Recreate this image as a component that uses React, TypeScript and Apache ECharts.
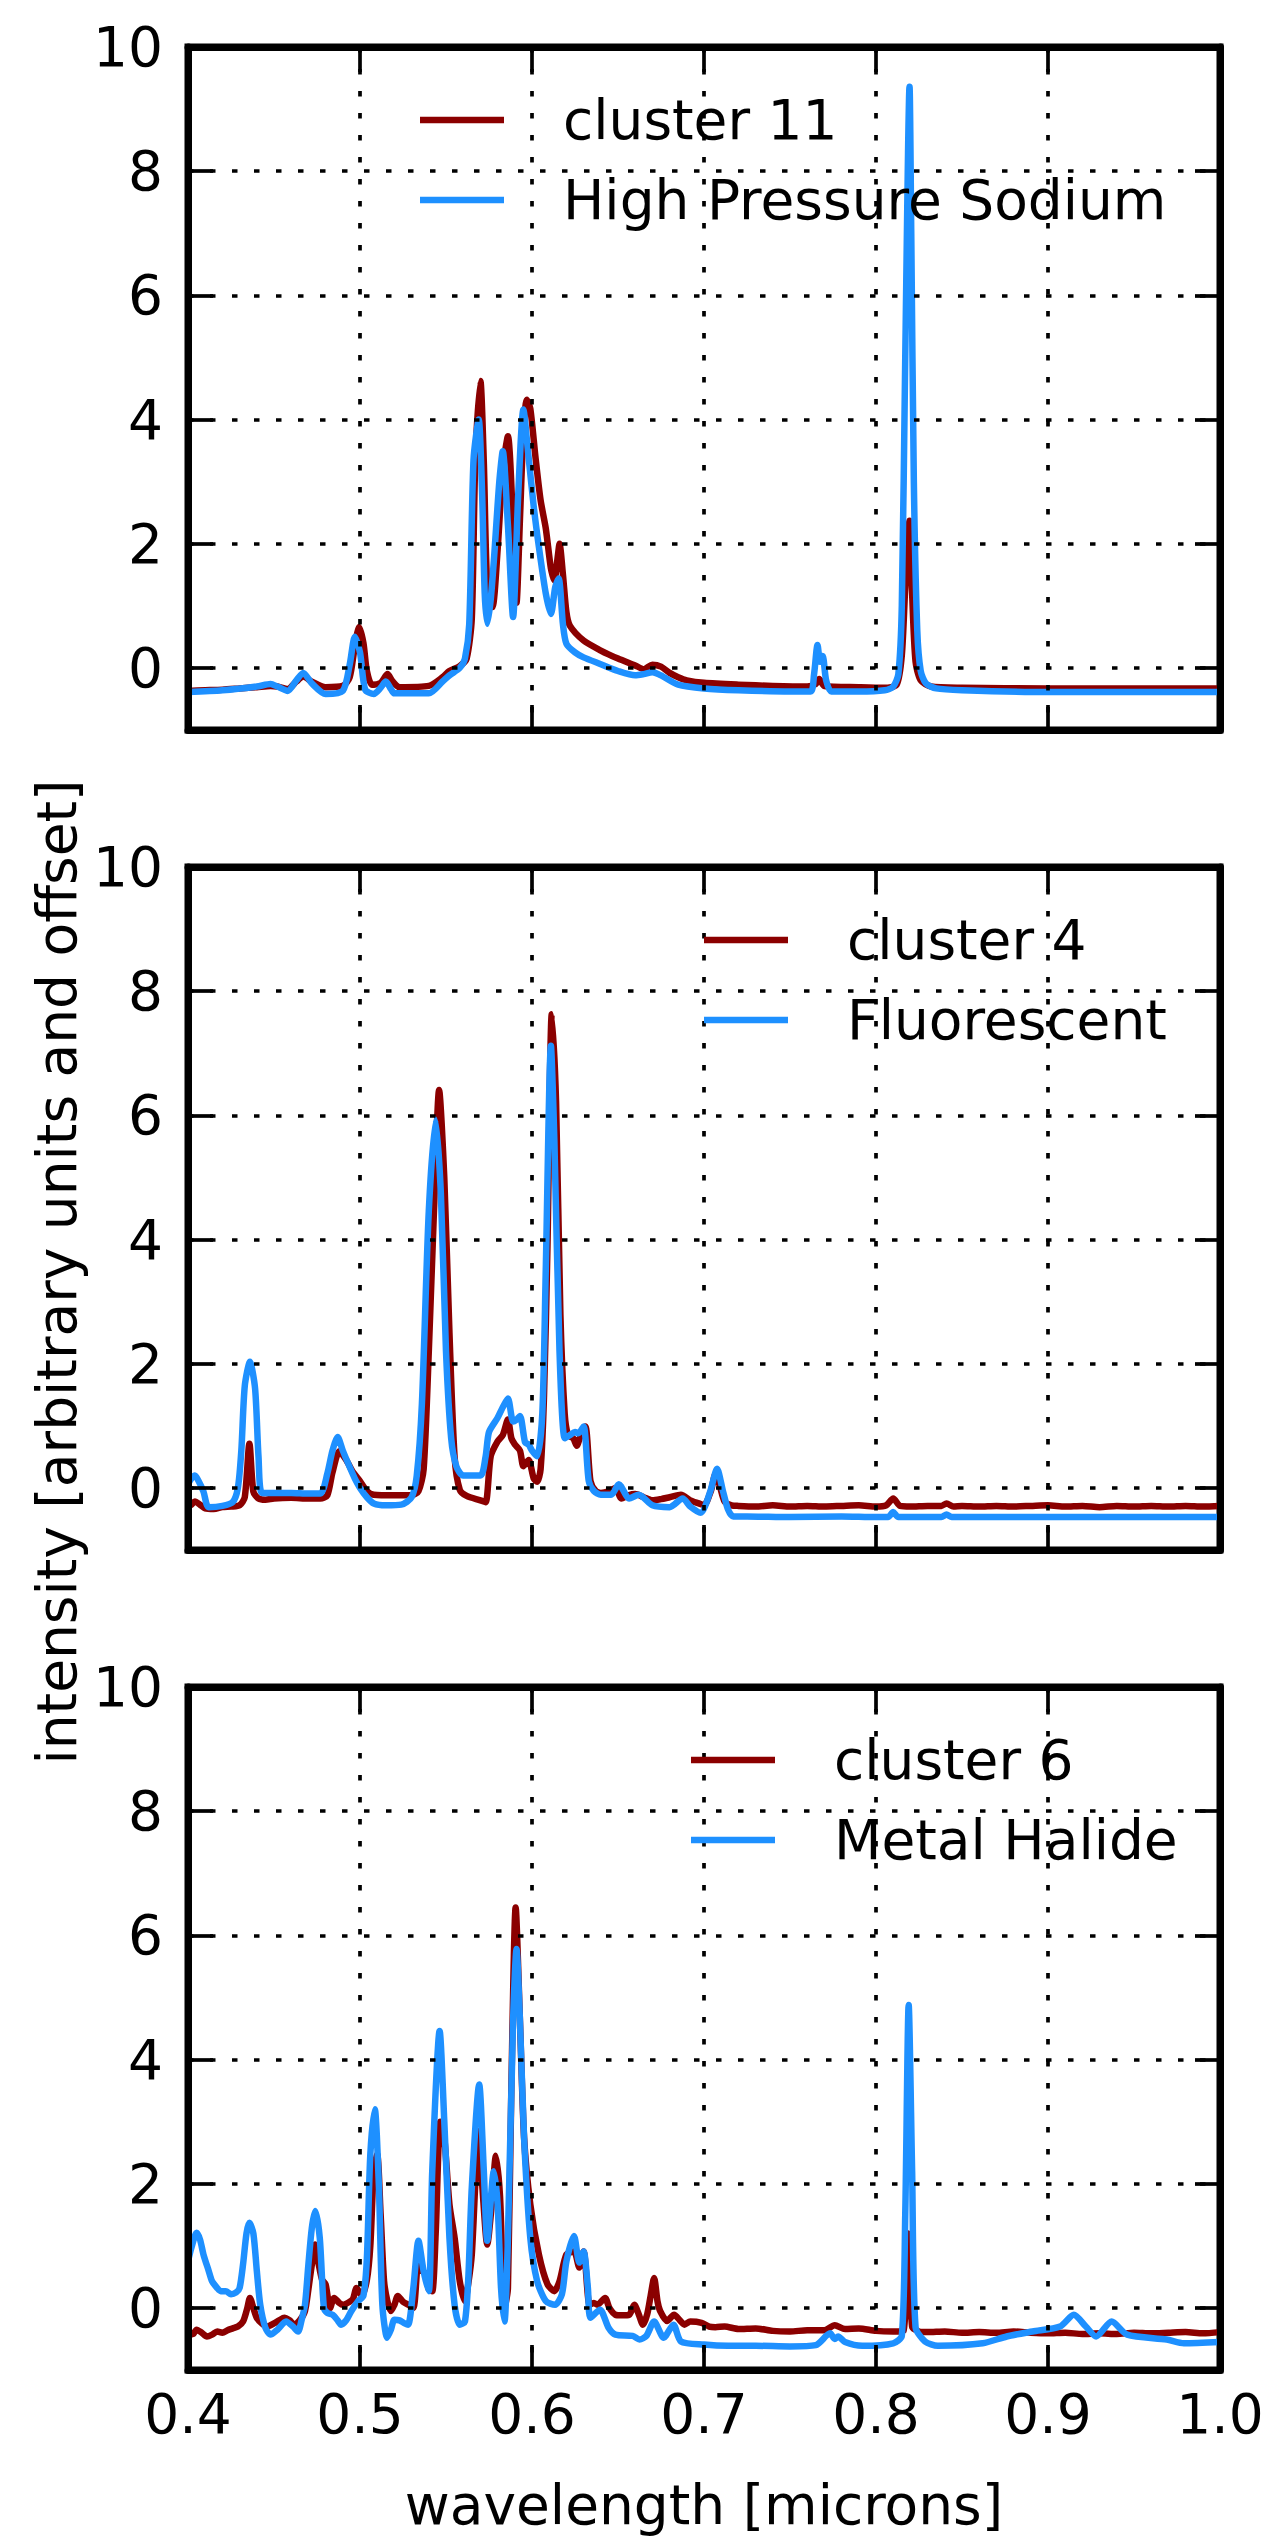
import React, { useEffect, useRef } from "react";
import * as echarts from "echarts";

// ---------------- data (wavelength in microns, intensity) ----------------
const wavelengthTicks = [0.4, 0.5, 0.6, 0.7, 0.8, 0.9, 1.0];
const intensityTicks = [0, 2, 4, 6, 8, 10];

const cluster11: [number, number][] = [
  [0.4, -0.37], [0.41, -0.36], [0.42, -0.35], [0.43, -0.33], [0.44, -0.31], [0.448, -0.29], [0.452, -0.3],
  [0.458, -0.34], [0.463, -0.22], [0.467, -0.14], [0.472, -0.22], [0.48, -0.31], [0.49, -0.29], [0.494, -0.15],
  [0.497, 0.35], [0.4995, 0.66], [0.502, 0.4], [0.504, -0.05], [0.507, -0.27], [0.512, -0.24], [0.516, -0.1],
  [0.519, -0.22], [0.523, -0.31], [0.54, -0.29], [0.548, -0.15], [0.552, -0.05], [0.558, 0.03], [0.562, 0.15],
  [0.565, 0.8], [0.567, 3.3], [0.57, 4.62], [0.572, 3.3], [0.574, 1.3], [0.577, 0.98], [0.58, 1.9], [0.583, 3.2],
  [0.586, 3.73], [0.589, 2.3], [0.591, 1.05], [0.593, 2.4], [0.595, 3.8], [0.597, 4.32], [0.599, 4.18],
  [0.602, 3.4], [0.605, 2.7], [0.608, 2.25], [0.611, 1.6], [0.613, 1.41], [0.615, 1.8], [0.616, 2.0],
  [0.618, 1.5], [0.62, 0.9], [0.622, 0.68], [0.63, 0.44], [0.64, 0.28], [0.65, 0.15], [0.66, 0.04],
  [0.665, -0.02], [0.67, 0.05], [0.675, 0.02], [0.68, -0.08], [0.685, -0.15], [0.69, -0.2], [0.7, -0.24],
  [0.72, -0.27], [0.74, -0.29], [0.76, -0.3], [0.765, -0.26], [0.767, -0.18], [0.77, -0.29], [0.79, -0.31],
  [0.805, -0.32], [0.812, -0.27], [0.815, 0.2], [0.817, 1.3], [0.8195, 2.37], [0.821, 1.2], [0.823, 0.1],
  [0.826, -0.2], [0.832, -0.3], [0.85, -0.32], [0.9, -0.33], [0.95, -0.33], [1.0, -0.33],
];

const highPressureSodium: [number, number][] = [
  [0.4, -0.39], [0.42, -0.36], [0.44, -0.3], [0.448, -0.26], [0.452, -0.3], [0.458, -0.37], [0.463, -0.2],
  [0.467, -0.08], [0.472, -0.25], [0.48, -0.42], [0.49, -0.37], [0.494, 0.05], [0.497, 0.5], [0.5, 0.25],
  [0.503, -0.35], [0.508, -0.42], [0.512, -0.32], [0.515, -0.22], [0.518, -0.34], [0.52, -0.41], [0.54, -0.41],
  [0.548, -0.22], [0.552, -0.12], [0.558, 0.0], [0.561, 0.15], [0.5635, 0.7], [0.566, 3.35], [0.569, 4.0],
  [0.571, 2.8], [0.5725, 1.2], [0.574, 0.71], [0.576, 1.1], [0.578, 1.8], [0.581, 3.0], [0.583, 3.49],
  [0.586, 2.3], [0.589, 0.82], [0.592, 2.8], [0.595, 4.16], [0.598, 3.4], [0.601, 2.6], [0.604, 1.95],
  [0.608, 1.2], [0.611, 0.87], [0.6135, 1.3], [0.6155, 1.44], [0.618, 0.7], [0.62, 0.39], [0.625, 0.25],
  [0.63, 0.17], [0.64, 0.06], [0.65, -0.05], [0.66, -0.12], [0.665, -0.1], [0.67, -0.07], [0.675, -0.12],
  [0.685, -0.27], [0.7, -0.33], [0.72, -0.36], [0.75, -0.38], [0.762, -0.38], [0.764, -0.1], [0.766, 0.37],
  [0.7675, 0.1], [0.769, 0.19], [0.771, -0.2], [0.774, -0.38], [0.79, -0.38], [0.805, -0.36], [0.81, -0.3],
  [0.813, -0.1], [0.815, 1.0], [0.817, 5.0], [0.8195, 9.36], [0.8205, 7.0], [0.822, 3.0], [0.824, 0.6],
  [0.826, -0.05], [0.829, -0.25], [0.835, -0.33], [0.85, -0.36], [0.9, -0.39], [0.95, -0.39], [1.0, -0.39],
];

const cluster4: [number, number][] = [
  [0.4, -0.3], [0.402, -0.27], [0.404, -0.22], [0.407, -0.27], [0.41, -0.33], [0.415, -0.34], [0.42, -0.31],
  [0.425, -0.3], [0.43, -0.28], [0.433, -0.15], [0.4357, 0.71], [0.438, -0.06], [0.441, -0.17], [0.445, -0.19],
  [0.45, -0.17], [0.46, -0.16], [0.47, -0.17], [0.477, -0.17], [0.481, -0.12], [0.484, 0.25], [0.488, 0.59],
  [0.492, 0.45], [0.496, 0.25], [0.5, 0.11], [0.504, -0.05], [0.508, -0.11], [0.52, -0.12], [0.53, -0.12],
  [0.534, -0.05], [0.537, 0.3], [0.54, 2.2], [0.543, 4.46], [0.546, 6.41], [0.549, 5.0], [0.552, 2.5],
  [0.555, 0.5], [0.558, -0.03], [0.562, -0.13], [0.57, -0.2], [0.573, -0.23], [0.576, 0.51], [0.58, 0.75],
  [0.583, 0.85], [0.586, 1.1], [0.588, 0.8], [0.59, 0.7], [0.593, 0.6], [0.595, 0.35], [0.598, 0.45],
  [0.601, 0.15], [0.603, 0.1], [0.605, 0.3], [0.607, 1.5], [0.609, 3.9], [0.6115, 7.63], [0.614, 6.2],
  [0.6165, 2.8], [0.619, 1.2], [0.621, 0.85], [0.624, 0.8], [0.626, 0.68], [0.628, 0.82], [0.631, 0.99],
  [0.634, 0.11], [0.637, -0.05], [0.64, -0.08], [0.645, -0.05], [0.6485, 0.0], [0.652, -0.17], [0.656, -0.12],
  [0.66, -0.1], [0.665, -0.15], [0.67, -0.2], [0.675, -0.18], [0.68, -0.15], [0.6866, -0.11], [0.692, -0.2],
  [0.697, -0.25], [0.7, -0.28], [0.704, -0.05], [0.7066, 0.22], [0.709, 0.05], [0.712, -0.22], [0.716, -0.28],
  [0.72, -0.29], [0.73, -0.3], [0.74, -0.28], [0.75, -0.3], [0.76, -0.29], [0.77, -0.3], [0.78, -0.29],
  [0.79, -0.28], [0.8, -0.3], [0.806, -0.28], [0.81, -0.17], [0.814, -0.29], [0.82, -0.3], [0.83, -0.29],
  [0.838, -0.29], [0.841, -0.25], [0.845, -0.3], [0.85, -0.29], [0.86, -0.3], [0.87, -0.29], [0.88, -0.3],
  [0.89, -0.29], [0.9, -0.28], [0.91, -0.3], [0.92, -0.29], [0.93, -0.31], [0.94, -0.29], [0.95, -0.3],
  [0.96, -0.29], [0.97, -0.3], [0.98, -0.29], [0.99, -0.3], [1.0, -0.29],
];

const fluorescent: [number, number][] = [
  [0.4, 0.06], [0.402, 0.15], [0.404, 0.2], [0.406, 0.12], [0.409, -0.06], [0.412, -0.31], [0.42, -0.29],
  [0.426, -0.23], [0.429, 0.0], [0.431, 0.6], [0.433, 1.64], [0.436, 2.03], [0.439, 1.6], [0.441, 0.5],
  [0.443, -0.08], [0.45, -0.08], [0.46, -0.08], [0.47, -0.09], [0.477, -0.09], [0.481, 0.23], [0.484, 0.6],
  [0.487, 0.82], [0.49, 0.6], [0.493, 0.4], [0.497, 0.15], [0.5, 0.0], [0.504, -0.15], [0.508, -0.25],
  [0.515, -0.28], [0.524, -0.27], [0.53, -0.15], [0.533, 0.2], [0.536, 1.36], [0.54, 4.46], [0.544, 5.93],
  [0.547, 4.75], [0.55, 2.2], [0.553, 0.8], [0.556, 0.35], [0.56, 0.2], [0.57, 0.2], [0.573, 0.5], [0.575, 0.9],
  [0.58, 1.13], [0.583, 1.3], [0.586, 1.44], [0.589, 1.07], [0.591, 1.1], [0.593, 1.16], [0.596, 0.73],
  [0.598, 0.7], [0.6, 0.6], [0.603, 0.51], [0.606, 1.2], [0.608, 3.5], [0.611, 7.12], [0.613, 5.6],
  [0.616, 2.2], [0.619, 0.8], [0.622, 0.85], [0.625, 0.9], [0.627, 0.88], [0.63, 0.99], [0.633, 0.11],
  [0.636, -0.05], [0.64, -0.11], [0.646, -0.11], [0.6505, 0.06], [0.6565, -0.17], [0.662, -0.11], [0.67, -0.28],
  [0.68, -0.31], [0.6876, -0.17], [0.692, -0.3], [0.698, -0.4], [0.7036, -0.06], [0.7076, 0.31], [0.711, -0.05],
  [0.714, -0.35], [0.717, -0.46], [0.725, -0.46], [0.75, -0.47], [0.78, -0.46], [0.8, -0.47], [0.807, -0.47],
  [0.81, -0.39], [0.813, -0.47], [0.838, -0.47], [0.841, -0.43], [0.844, -0.47], [0.85, -0.47], [0.9, -0.47],
  [0.95, -0.47], [1.0, -0.47],
];

const cluster6: [number, number][] = [
  [0.4, -0.43], [0.403, -0.42], [0.405, -0.35], [0.408, -0.4], [0.411, -0.46], [0.414, -0.43], [0.417, -0.38],
  [0.42, -0.4], [0.423, -0.36], [0.426, -0.33], [0.429, -0.3], [0.432, -0.22], [0.4345, 0.0], [0.436, 0.16],
  [0.438, 0.0], [0.44, -0.16], [0.443, -0.25], [0.446, -0.3], [0.45, -0.25], [0.453, -0.2], [0.456, -0.16],
  [0.459, -0.2], [0.462, -0.27], [0.465, -0.2], [0.468, -0.05], [0.47, 0.3], [0.472, 0.7], [0.474, 1.02],
  [0.476, 0.7], [0.478, 0.45], [0.48, 0.38], [0.4826, 0.0], [0.485, 0.16], [0.488, 0.08], [0.49, 0.05],
  [0.494, 0.1], [0.496, 0.15], [0.498, 0.32], [0.501, 0.2], [0.504, 0.45], [0.506, 1.0], [0.508, 2.2],
  [0.51, 2.47], [0.512, 1.5], [0.514, 0.43], [0.516, 0.1], [0.518, -0.05], [0.52, 0.05], [0.522, 0.19],
  [0.525, 0.1], [0.528, 0.05], [0.531, 0.0], [0.534, 0.8], [0.536, 0.6], [0.538, 0.55], [0.54, 0.3],
  [0.542, 0.27], [0.544, 1.2], [0.5467, 3.0], [0.549, 2.74], [0.552, 1.67], [0.555, 1.13], [0.558, 0.43],
  [0.561, 0.11], [0.563, 0.4], [0.565, 0.86], [0.567, 2.0], [0.5685, 2.85], [0.571, 2.0], [0.574, 1.02],
  [0.5764, 1.6], [0.579, 2.45], [0.5814, 1.8], [0.583, 0.5], [0.5844, 0.05], [0.586, 0.32], [0.588, 3.55],
  [0.5905, 6.45], [0.593, 4.62], [0.5954, 2.74], [0.599, 1.67], [0.604, 0.86], [0.609, 0.38], [0.613, 0.27],
  [0.616, 0.43], [0.62, 0.86], [0.6244, 0.91], [0.6275, 0.65], [0.63, 0.91], [0.6335, 0.05], [0.636, 0.08],
  [0.638, 0.05], [0.6425, 0.16], [0.645, 0.0], [0.6485, -0.11], [0.652, -0.12], [0.6565, -0.11], [0.6595, 0.05],
  [0.662, -0.1], [0.6645, -0.27], [0.667, -0.1], [0.669, 0.2], [0.671, 0.48], [0.673, 0.1], [0.6745, -0.05],
  [0.6785, -0.21], [0.6826, -0.11], [0.686, -0.2], [0.6886, -0.27], [0.692, -0.22], [0.6986, -0.24],
  [0.703, -0.3], [0.7066, -0.31], [0.712, -0.3], [0.72, -0.34], [0.73, -0.33], [0.74, -0.37], [0.75, -0.38],
  [0.76, -0.36], [0.77, -0.36], [0.776, -0.28], [0.782, -0.34], [0.79, -0.33], [0.8, -0.37], [0.81, -0.38],
  [0.816, -0.37], [0.8185, 1.2], [0.821, -0.3], [0.825, -0.38], [0.83, -0.39], [0.84, -0.38], [0.85, -0.4],
  [0.86, -0.39], [0.87, -0.4], [0.88, -0.38], [0.89, -0.4], [0.9, -0.41], [0.91, -0.4], [0.92, -0.42],
  [0.93, -0.41], [0.94, -0.42], [0.95, -0.4], [0.96, -0.41], [0.97, -0.4], [0.98, -0.39], [0.99, -0.41],
  [1.0, -0.39],
];

const metalHalide: [number, number][] = [
  [0.4, 0.75], [0.402, 0.97], [0.405, 1.21], [0.407, 1.1], [0.409, 0.86], [0.412, 0.6], [0.414, 0.43],
  [0.417, 0.32], [0.419, 0.27], [0.422, 0.27], [0.425, 0.22], [0.428, 0.25], [0.43, 0.32], [0.432, 0.7],
  [0.434, 1.2], [0.4357, 1.37], [0.438, 1.2], [0.44, 0.6], [0.442, 0.05], [0.445, -0.32], [0.448, -0.43],
  [0.452, -0.35], [0.457, -0.22], [0.461, -0.3], [0.464, -0.38], [0.466, -0.2], [0.468, 0.05], [0.47, 0.7],
  [0.472, 1.29], [0.474, 1.56], [0.4766, 1.13], [0.479, 0.0], [0.481, -0.08], [0.484, -0.11], [0.487, -0.2],
  [0.489, -0.27], [0.492, -0.2], [0.495, -0.05], [0.499, 0.11], [0.502, 0.2], [0.504, 0.8], [0.506, 2.47],
  [0.5086, 3.2], [0.511, 1.94], [0.513, 0.05], [0.5158, -0.48], [0.518, -0.35], [0.52, -0.19], [0.523, -0.2],
  [0.526, -0.25], [0.528, -0.27], [0.531, 0.32], [0.534, 1.08], [0.537, 0.59], [0.54, 0.27], [0.542, 2.2],
  [0.5463, 4.46], [0.549, 3.01], [0.552, 1.13], [0.555, 0.05], [0.558, -0.27], [0.561, -0.22], [0.563, 0.5],
  [0.565, 1.94], [0.5693, 3.6], [0.572, 2.2], [0.574, 1.08], [0.5778, 2.2], [0.58, 1.67], [0.582, 0.32],
  [0.584, -0.22], [0.586, 1.13], [0.589, 4.62], [0.591, 5.78], [0.593, 4.62], [0.5954, 2.74], [0.599, 1.13],
  [0.603, 0.43], [0.608, 0.11], [0.6134, 0.05], [0.6174, 0.22], [0.62, 0.75], [0.6244, 1.16], [0.6275, 0.73],
  [0.63, 0.91], [0.6325, 0.32], [0.634, -0.16], [0.6395, -0.03], [0.6445, -0.32], [0.6485, -0.43],
  [0.6585, -0.45], [0.6625, -0.51], [0.6665, -0.45], [0.671, -0.22], [0.6766, -0.48], [0.6822, -0.27],
  [0.6866, -0.54], [0.7, -0.59], [0.714, -0.61], [0.73, -0.61], [0.75, -0.62], [0.765, -0.6], [0.7733, -0.41],
  [0.776, -0.5], [0.778, -0.46], [0.782, -0.55], [0.792, -0.61], [0.81, -0.57], [0.815, -0.45], [0.817, 1.5],
  [0.819, 4.88], [0.821, 2.2], [0.823, -0.31], [0.8285, -0.54], [0.836, -0.61], [0.862, -0.57], [0.876, -0.46],
  [0.891, -0.38], [0.907, -0.3], [0.915, -0.11], [0.922, -0.3], [0.928, -0.46], [0.937, -0.22], [0.946, -0.43],
  [0.969, -0.51], [0.979, -0.57], [1.0, -0.55],
];

const panelNames = [
  ["cluster 11", "High Pressure Sodium"],
  ["cluster 4", "Fluorescent"],
  ["cluster 6", "Metal Halide"],
];
const panelData = [
  [cluster11, highPressureSodium],
  [cluster4, fluorescent],
  [cluster6, metalHalide],
];
const xAxisTitle = "wavelength [microns]";
const yAxisTitle = "intensity [arbitrary units and offset]";

// ---------------- layout / style ----------------
const W = 1275;
const H = 2544;
const LEFT = 188;
const PLOT_W = 1032;
const PLOT_H = 683;
const TOPS = [47, 867, 1687];
const LEGEND_LINE_X = [420, 704, 691];
const RED = "#8b0000";
const BLUE = "#1e90ff";
const FONT = "DejaVu Sans";
const FS = 55;

function buildOption() {
  const grid: any[] = [];
  const xAxis: any[] = [];
  const yAxis: any[] = [];
  const series: any[] = [];
  const graphic: any[] = [];

  const tickStyle = { color: "#000", width: 3.7 };
  const frameLine = { show: true, onZero: false, lineStyle: { color: "#000", width: 7 } };
  const dotted = { color: "#000", width: 3.7, type: [5.5, 16.5] };

  TOPS.forEach((top, i) => {
    grid.push({
      left: LEFT,
      top,
      width: PLOT_W,
      height: PLOT_H,
      show: true,
      borderColor: "#000",
      borderWidth: 7,
      backgroundColor: "transparent",
    });
    const isLast = i === TOPS.length - 1;
    xAxis.push({
      type: "value",
      gridIndex: i,
      position: "bottom",
      min: wavelengthTicks[0],
      max: wavelengthTicks[wavelengthTicks.length - 1],
      interval: 0.1,
      z: 5,
      axisLine: frameLine,
      axisTick: { show: true, inside: true, length: 25, lineStyle: tickStyle },
      axisLabel: {
        show: isLast,
        color: "#000",
        fontFamily: FONT,
        fontSize: FS,
        margin: 16,
        formatter: (v: number) => v.toFixed(1),
      },
      splitLine: { show: true, lineStyle: dotted },
    });
    xAxis.push({
      type: "value",
      gridIndex: i,
      position: "top",
      min: wavelengthTicks[0],
      max: wavelengthTicks[wavelengthTicks.length - 1],
      interval: 0.1,
      z: 5,
      axisLine: frameLine,
      axisTick: { show: true, inside: true, length: 25, lineStyle: tickStyle },
      axisLabel: { show: false },
      splitLine: { show: false },
    });
    yAxis.push({
      type: "value",
      gridIndex: i,
      position: "left",
      min: -1,
      max: 10,
      z: 5,
      axisLine: frameLine,
      axisTick: { show: true, inside: true, length: 25, lineStyle: tickStyle, customValues: intensityTicks },
      axisLabel: {
        show: true,
        color: "#000",
        fontFamily: FONT,
        fontSize: FS,
        margin: 25,
        padding: [0, 0, 8, 0],
        customValues: intensityTicks,
        formatter: (v: number) => String(v),
      },
      splitLine: { show: true, lineStyle: dotted },
    });
    yAxis.push({
      type: "value",
      gridIndex: i,
      position: "right",
      min: -1,
      max: 10,
      z: 5,
      axisLine: frameLine,
      axisTick: { show: true, inside: true, length: 25, lineStyle: tickStyle, customValues: intensityTicks },
      axisLabel: { show: false },
      splitLine: { show: false },
    });

    const [redData, blueData] = panelData[i];
    const [redName, blueName] = panelNames[i];
    series.push({
      type: "line",
      name: redName,
      xAxisIndex: i * 2,
      yAxisIndex: i * 2,
      data: redData,
      showSymbol: false,
      smooth: 0.25,
      z: 2,
      lineStyle: { color: RED, width: 6.5, join: "round" },
      itemStyle: { color: RED },
    });
    series.push({
      type: "line",
      name: blueName,
      xAxisIndex: i * 2,
      yAxisIndex: i * 2,
      data: blueData,
      showSymbol: false,
      smooth: 0.25,
      z: 3,
      lineStyle: { color: BLUE, width: 6.5, join: "round" },
      itemStyle: { color: BLUE },
    });

    // legend (frameless, as in the reference)
    const lx = LEGEND_LINE_X[i];
    const rows = [top + 73, top + 153];
    [RED, BLUE].forEach((c, k) => {
      graphic.push({
        type: "line",
        shape: { x1: lx, y1: rows[k], x2: lx + 84, y2: rows[k] },
        style: { stroke: c, lineWidth: 6.5 },
        z: 10,
      });
      graphic.push({
        type: "text",
        x: lx + 143,
        y: rows[k],
        z: 10,
        style: {
          text: panelNames[i][k],
          fill: "#000",
          font: `${FS}px "${FONT}"`,
          textAlign: "left",
          textVerticalAlign: "middle",
        },
      });
    });
  });

  graphic.push({
    type: "text",
    x: LEFT + PLOT_W / 2,
    y: 2505,
    style: {
      text: xAxisTitle,
      fill: "#000",
      font: `${FS}px "${FONT}"`,
      textAlign: "center",
      textVerticalAlign: "middle",
    },
  });
  graphic.push({
    type: "text",
    x: 57,
    y: 1272,
    rotation: Math.PI / 2,
    style: {
      text: yAxisTitle,
      fill: "#000",
      font: `${FS}px "${FONT}"`,
      textAlign: "center",
      textVerticalAlign: "middle",
    },
  });

  return {
    animation: false,
    backgroundColor: "#fff",
    textStyle: { fontFamily: FONT },
    grid,
    xAxis,
    yAxis,
    series,
    graphic,
  };
}

export default function App() {
  const ref = useRef<HTMLDivElement>(null);
  useEffect(() => {
    document.body.style.margin = "0";
    if (!ref.current) return;
    const chart = echarts.init(ref.current, undefined, { renderer: "svg", width: W, height: H });
    chart.setOption(buildOption() as any);
    return () => chart.dispose();
  }, []);
  return <div ref={ref} style={{ width: W, height: H }} />;
}
